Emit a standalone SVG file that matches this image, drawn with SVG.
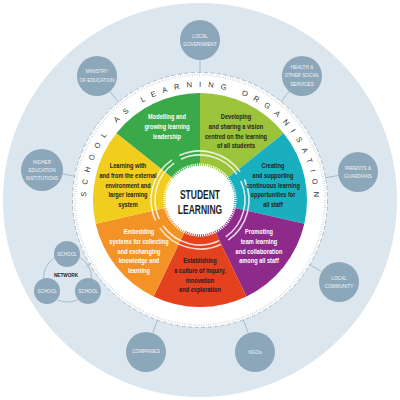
<svg xmlns="http://www.w3.org/2000/svg" width="400" height="400" viewBox="0 0 400 400">
<defs>
<style>
.bg{fill:#dce6ee}
.node{fill:#8ca6ba}
.nl{font-family:"Liberation Sans",Arial,sans-serif;font-size:6px;fill:#f2f5f8;text-anchor:middle}
.con{stroke:#a7bbcb;stroke-width:1;fill:none}
.seg{font-family:"Liberation Sans",Arial,sans-serif;font-size:7.4px;font-weight:bold;text-anchor:middle}
.w{fill:#ffffff}
.d{fill:#231f20}
.ring{font-family:"Liberation Sans","DejaVu Sans",sans-serif;font-size:7.5px;fill:#333333;letter-spacing:6.9px}
.arc{stroke:#ffffff;stroke-width:1.6;fill:none;opacity:0.8}
</style>
</defs>
<rect width="400" height="400" fill="#ffffff"/>
<circle class="bg" cx="200" cy="200" r="197"/>
<circle cx="200" cy="200" r="127.5" fill="#ffffff" stroke="#a9b7c3" stroke-width="0.9" stroke-dasharray="4 2.5"/>
<circle cx="200" cy="200" r="125" fill="none" stroke="#d3dbe2" stroke-width="2.5" stroke-dasharray="0.8 1.6"/>

<g id="connectors">
<line class="con" x1="200" y1="59" x2="200" y2="73"/>
<line class="con" x1="109.8" y1="91.4" x2="118.7" y2="102.2"/>
<line class="con" x1="61.5" y1="173.7" x2="75.2" y2="176.3"/>
<line class="con" x1="289.5" y1="91.1" x2="280.7" y2="102"/>
<line class="con" x1="338.8" y1="175.4" x2="325" y2="177.8"/>
<line class="con" x1="321.4" y1="271.6" x2="309.4" y2="264.5"/>
<line class="con" x1="248" y1="332.6" x2="243.2" y2="319.4"/>
<line class="con" x1="152.8" y1="332.8" x2="157.5" y2="319.7"/>
<line class="con" x1="86" y1="267" x2="91" y2="263"/>
<circle class="con" cx="67.5" cy="278" r="24" stroke-width="1.3"/>
</g>

<g id="wheel">
<path id="seg-green" d="M200,200 L116.34,133.29 A107,107 0 0 1 200,93 Z" fill="#3aa94a"/>
<path id="seg-lime" d="M200,200 L200,93 A107,107 0 0 1 283.66,133.29 Z" fill="#9cc43b"/>
<path id="seg-teal" d="M200,200 L283.66,133.29 A107,107 0 0 1 304.32,223.81 Z" fill="#1aafbf"/>
<path id="seg-purple" d="M200,200 L304.32,223.81 A107,107 0 0 1 246.43,296.40 Z" fill="#8e2a8a"/>
<path id="seg-red" d="M200,200 L246.43,296.40 A107,107 0 0 1 153.57,296.40 Z" fill="#e4411f"/>
<path id="seg-orange" d="M200,200 L153.57,296.40 A107,107 0 0 1 95.68,223.81 Z" fill="#f39325"/>
<path id="seg-yellow" d="M200,200 L95.68,223.81 A107,107 0 0 1 116.34,133.29 Z" fill="#f1cd1e"/>
</g>

<g id="center-arcs">
<path class="arc" d="M240.78,180.98 A45,45 0 0 1 225.81,236.86"/>
<path class="arc" d="M219.02,240.78 A45,45 0 0 1 163.14,225.81"/>
<path class="arc" d="M159.22,219.02 A45,45 0 0 1 174.19,163.14"/>
<path class="arc" d="M180.98,159.22 A45,45 0 0 1 236.86,174.19"/>
<path class="arc" d="M244.41,179.29 A49,49 0 0 1 228.11,240.14" opacity="0.55"/>
<path class="arc" d="M220.71,244.41 A49,49 0 0 1 159.86,228.11" opacity="0.55"/>
<path class="arc" d="M155.59,220.71 A49,49 0 0 1 171.89,159.86" opacity="0.55"/>
<path class="arc" d="M179.29,155.59 A49,49 0 0 1 240.14,171.89" opacity="0.55"/>
</g>

<g id="student-learning">
<circle cx="200" cy="200" r="34.5" fill="#ffffff"/>
<circle cx="200" cy="200" r="35.5" fill="none" stroke="#ffffff" stroke-width="2.4" stroke-dasharray="1.1 1"/>
<g transform="translate(200,0) scale(0.68,1)">
<text class="seg d" style="font-size:12.5px" x="0" y="199">STUDENT</text>
<text class="seg d" style="font-size:12.5px" x="0" y="214.5">LEARNING</text>
</g>
</g>

<g id="ring-title">
<path id="ringpath" d="M86,201 A114,114 0 0 1 314,201" fill="none"/>
<text class="ring"><textPath href="#ringpath" startOffset="51%" text-anchor="middle">SCHOOL AS LEARNING ORGANISATION</textPath></text>
</g>

<g id="label-green" transform="translate(167,0) scale(0.76,1)"><text class="seg w" y="119.5"><tspan x="0">Modelling and</tspan><tspan x="0" dy="10">growing learning</tspan><tspan x="0" dy="10">leadership</tspan></text></g>
<g id="label-lime" transform="translate(236,0) scale(0.76,1)"><text class="seg d" y="119.5"><tspan x="0">Developing</tspan><tspan x="0" dy="9.6">and sharing a vision</tspan><tspan x="0" dy="9.6">centred on the learning</tspan><tspan x="0" dy="9.6">of all students</tspan></text></g>
<g id="label-teal" transform="translate(273,0) scale(0.76,1)"><text class="seg d" y="168.5"><tspan x="0">Creating</tspan><tspan x="0" dy="9.6">and supporting</tspan><tspan x="0" dy="9.6">continuous learning</tspan><tspan x="0" dy="9.6">opportunities for</tspan><tspan x="0" dy="9.6">all staff</tspan></text></g>
<g id="label-purple" transform="translate(259,0) scale(0.76,1)"><text class="seg w" y="234.5"><tspan x="0">Promoting</tspan><tspan x="0" dy="9.6">team learning</tspan><tspan x="0" dy="9.6">and collaboration</tspan><tspan x="0" dy="9.6">among all staff</tspan></text></g>
<g id="label-red" transform="translate(200,0) scale(0.76,1)"><text class="seg d" y="263.5"><tspan x="0">Establishing</tspan><tspan x="0" dy="9.6">a culture of inquiry,</tspan><tspan x="0" dy="9.6">innovation</tspan><tspan x="0" dy="9.6">and exploration</tspan></text></g>
<g id="label-orange" transform="translate(139,0) scale(0.76,1)"><text class="seg w" y="234.5"><tspan x="0">Embedding</tspan><tspan x="0" dy="9.6">systems for collecting</tspan><tspan x="0" dy="9.6">and exchanging</tspan><tspan x="0" dy="9.6">knowledge and</tspan><tspan x="0" dy="9.6">learning</tspan></text></g>
<g id="label-yellow" transform="translate(128,0) scale(0.76,1)"><text class="seg d" y="168.5"><tspan x="0">Learning with</tspan><tspan x="0" dy="9.6">and from the external</tspan><tspan x="0" dy="9.6">environment and</tspan><tspan x="0" dy="9.6">larger learning</tspan><tspan x="0" dy="9.6">system</tspan></text></g>

<g id="n-local-government"><circle class="node" cx="200" cy="40" r="20"/><g transform="translate(200,0) scale(0.78,1)"><text class="nl" y="38.5"><tspan x="0">LOCAL</tspan><tspan x="0" dy="7.5">GOVERNMENT</tspan></text></g></g>
<g id="n-ministry"><circle class="node" cx="97" cy="76" r="20"/><g transform="translate(97,0) scale(0.78,1)"><text class="nl" y="73.5"><tspan x="0">MINISTRY</tspan><tspan x="0" dy="8.3">OF EDUCATION</tspan></text></g></g>
<g id="n-higher"><circle class="node" cx="42" cy="170" r="21"/><g transform="translate(42,0) scale(0.78,1)"><text class="nl" y="163.7"><tspan x="0">HIGHER</tspan><tspan x="0" dy="8.3">EDUCATION</tspan><tspan x="0" dy="8.3">INSTITUTIONS</tspan></text></g></g>
<g id="n-health"><circle class="node" cx="302" cy="76" r="20"/><g transform="translate(302,0) scale(0.78,1)"><text class="nl" y="68.7"><tspan x="0">HEALTH &amp;</tspan><tspan x="0" dy="8.6">OTHER SOCIAL</tspan><tspan x="0" dy="8.6">SERVICES</tspan></text></g></g>
<g id="n-parents"><circle class="node" cx="358" cy="172" r="20"/><g transform="translate(358,0) scale(0.78,1)"><text class="nl" y="169.7"><tspan x="0">PARENTS &amp;</tspan><tspan x="0" dy="8.3">GUARDIANS</tspan></text></g></g>
<g id="n-community"><circle class="node" cx="339" cy="282" r="20"/><g transform="translate(339,0) scale(0.78,1)"><text class="nl" y="279.7"><tspan x="0">LOCAL</tspan><tspan x="0" dy="8.3">COMMUNITY</tspan></text></g></g>
<g id="n-ngos"><circle class="node" cx="255" cy="352" r="20"/><g transform="translate(255,0) scale(0.78,1)"><text class="nl" x="0" y="353.7">NGOs</text></g></g>
<g id="n-companies"><circle class="node" cx="146" cy="352" r="20"/><g transform="translate(146,0) scale(0.78,1)"><text class="nl" x="0" y="353.5">COMPANIES</text></g></g>
<g id="n-network"><g transform="translate(66,0) scale(0.78,1)"><text class="nl" x="0" y="277.5" style="fill:#231f20;font-weight:bold">NETWORK</text></g></g>
<g id="n-school-top"><circle class="node" cx="67" cy="254" r="13"/><g transform="translate(67,0) scale(0.78,1)"><text class="nl" x="0" y="256.3">SCHOOL</text></g></g>
<g id="n-school-left"><circle class="node" cx="47" cy="291" r="13"/><g transform="translate(47,0) scale(0.78,1)"><text class="nl" x="0" y="293">SCHOOL</text></g></g>
<g id="n-school-right"><circle class="node" cx="88" cy="291" r="13"/><g transform="translate(88,0) scale(0.78,1)"><text class="nl" x="0" y="293">SCHOOL</text></g></g>
</svg>
